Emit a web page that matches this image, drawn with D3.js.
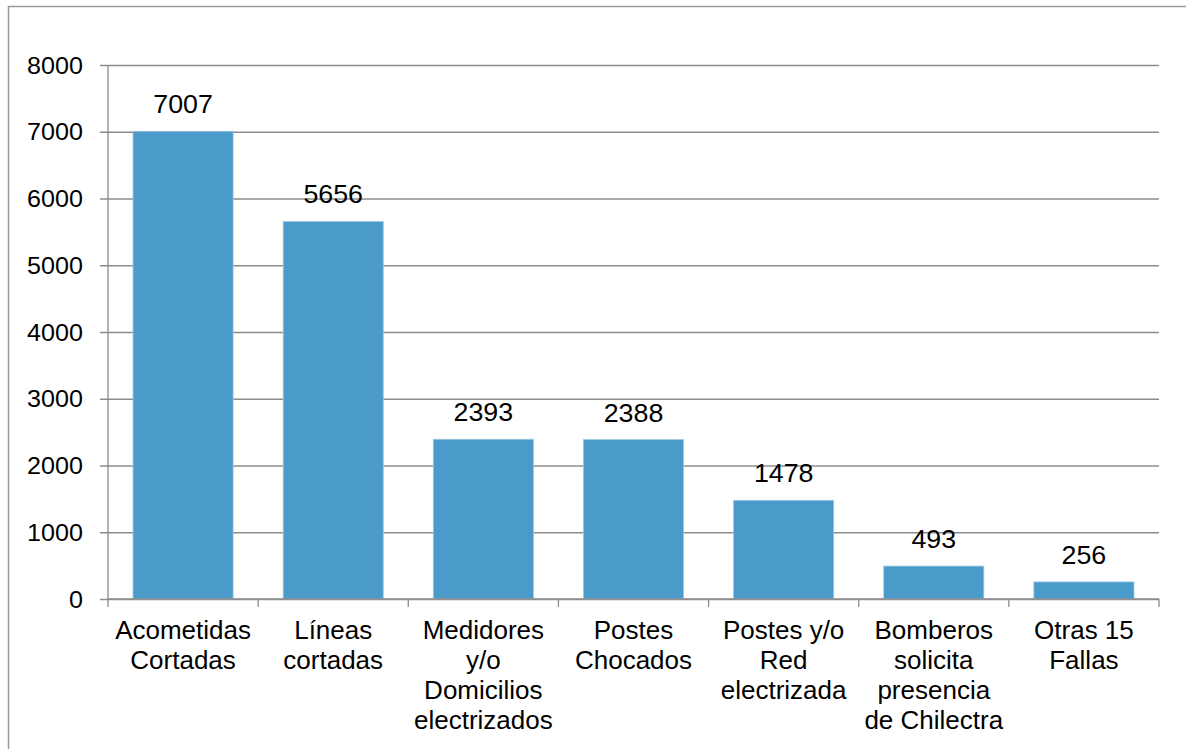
<!DOCTYPE html>
<html>
<head>
<meta charset="utf-8">
<script src="https://cdn.jsdelivr.net/npm/d3@7"></script>
<style>
  html, body { margin: 0; padding: 0; background: #fff; overflow: hidden; }
  svg { display: block; font-family: "Liberation Sans", Arial, sans-serif; }
</style>
</head>
<body>
<div id="chart"></div>
<script>
const categories = [
  ["Acometidas", "Cortadas"],
  ["Líneas", "cortadas"],
  ["Medidores", "y/o", "Domicilios", "electrizados"],
  ["Postes", "Chocados"],
  ["Postes y/o", "Red", "electrizada"],
  ["Bomberos", "solicita", "presencia", "de Chilectra"],
  ["Otras 15", "Fallas"]
];
const values = [7007, 5656, 2393, 2388, 1478, 493, 256];
const yTicks = [0, 1000, 2000, 3000, 4000, 5000, 6000, 7000, 8000];

const W = 1186, H = 749;
const mg = { top: 65, left: 108 };
const iw = 1159 - mg.left;
const ih = 599 - mg.top;
const gridCol = "#8c8c8c";

const svg = d3.select("#chart").append("svg").attr("width", W).attr("height", H);

// outer frame (runs past the right and bottom edges)
svg.append("rect")
  .attr("x", 8.5).attr("y", 6.5).attr("width", 1400).attr("height", 1000)
  .attr("fill", "none").attr("stroke", "#9a9a9a").attr("stroke-width", 1.5);

const g = svg.append("g").attr("transform", `translate(${mg.left},${mg.top})`);

const keys = categories.map((c, i) => i);
const x = d3.scaleBand().domain(keys).range([0, iw]).paddingInner(1 / 3).paddingOuter(1 / 6);
const y = d3.scaleLinear().domain([0, 8000]).range([ih, 0]);

// horizontal gridlines + left ticks
g.append("g").attr("class", "grid")
  .call(d3.axisLeft(y).tickValues(yTicks).tickSize(-iw).tickFormat(""))
  .call(s => s.select(".domain").remove())
  .selectAll("line").attr("stroke", gridCol).attr("stroke-width", 1.3).attr("x1", -8);

// tick labels, slightly widened like the original
g.selectAll(".ylab").data(yTicks).join("text")
  .attr("class", "ylab")
  .attr("transform", d => `translate(-25,${y(d) + 8.5}) scale(1.07,1)`)
  .attr("text-anchor", "end")
  .style("font-size", "23.5px").style("fill", "#000")
  .text(d => d);

// bars
g.selectAll(".bar").data(values).join("rect")
  .attr("class", "bar")
  .attr("x", (d, i) => x(i))
  .attr("y", d => y(d))
  .attr("width", x.bandwidth())
  .attr("height", d => ih - y(d))
  .attr("fill", "#4a9bca")
  .attr("stroke", "#9cc8e3").attr("stroke-width", 0.8);

// value labels
g.selectAll(".vlab").data(values).join("text")
  .attr("class", "vlab")
  .attr("transform", (d, i) => `translate(${x(i) + x.bandwidth() / 2},${y(d) - 18}) scale(1.05,1)`)
  .attr("text-anchor", "middle")
  .style("font-size", "25.5px").style("fill", "#000")
  .text(d => d);

// y axis line
g.append("line").attr("x1", 0).attr("x2", 0).attr("y1", 0).attr("y2", ih)
  .attr("stroke", gridCol).attr("stroke-width", 1.3);

// x axis line with boundary ticks
const step = x.step();
g.append("line").attr("x1", 0).attr("x2", iw).attr("y1", ih).attr("y2", ih)
  .attr("stroke", gridCol).attr("stroke-width", 1.3);
g.selectAll(".xtick").data(d3.range(keys.length + 1)).join("line")
  .attr("class", "xtick")
  .attr("x1", i => i * step).attr("x2", i => i * step)
  .attr("y1", ih).attr("y2", ih + 8)
  .attr("stroke", gridCol).attr("stroke-width", 1.3);

// category labels
const cl = g.selectAll(".clab").data(categories).join("text")
  .attr("class", "clab")
  .attr("text-anchor", "middle")
  .style("font-size", "26px").style("fill", "#000");
cl.selectAll("tspan").data((d, i) => d.map(t => ({ t, i }))).join("tspan")
  .attr("x", d => x(d.i) + x.bandwidth() / 2)
  .attr("y", (d, j) => ih + 40 + j * 30)
  .text(d => d.t);
</script>
</body>
</html>
